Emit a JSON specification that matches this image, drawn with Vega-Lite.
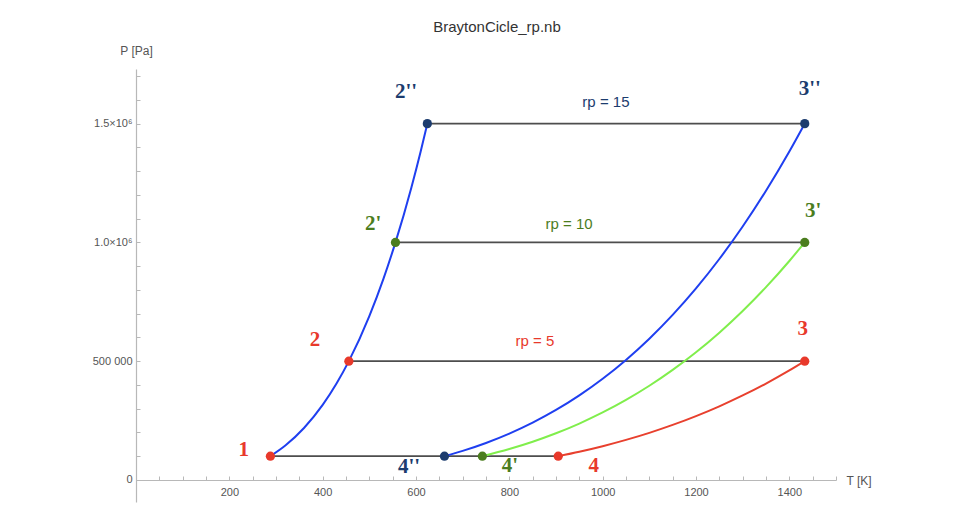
{
  "$schema": "https://vega.github.io/schema/vega-lite/v6.json",
  "width": 700,
  "height": 433,
  "autosize": {"type": "none"},
  "padding": {"left": 136, "top": 69, "right": 120, "bottom": 30},
  "background": "white",
  "config": {
    "view": {"stroke": null},
    "axis": {
      "grid": false,
      "domainColor": "#b8b8b8",
      "domainWidth": 1.2,
      "tickColor": "#b8b8b8",
      "labelColor": "#555555",
      "labelFont": "Liberation Sans",
      "labelFontSize": 11,
      "titleFont": "Liberation Sans",
      "titleFontWeight": "normal",
      "titleFontSize": 12,
      "titleColor": "#555555",
      "labelOverlap": false,
      "labelFlush": false
    }
  },
  "title": {
    "text": "BraytonCicle_rp.nb",
    "font": "Liberation Sans",
    "fontSize": 15,
    "fontWeight": "normal",
    "color": "#333333",
    "anchor": "middle",
    "baseline": "middle",
    "offset": 2,
    "dx": 11
  },
  "datasets": {
    "curves": [
      {"curve": "compression", "T": 288, "P": 100000},
      {"curve": "compression", "T": 320, "P": 144600},
      {"curve": "compression", "T": 360, "P": 218400},
      {"curve": "compression", "T": 400, "P": 315700},
      {"curve": "compression", "T": 430, "P": 406700},
      {"curve": "compression", "T": 456.1, "P": 500000},
      {"curve": "compression", "T": 500, "P": 689500},
      {"curve": "compression", "T": 530, "P": 845400},
      {"curve": "compression", "T": 556, "P": 1000000},
      {"curve": "compression", "T": 590, "P": 1230500},
      {"curve": "compression", "T": 610, "P": 1382900},
      {"curve": "compression", "T": 624.3, "P": 1500000},
      {"curve": "rp = 5", "T": 904.8, "P": 100000},
      {"curve": "rp = 5", "T": 950, "P": 118600},
      {"curve": "rp = 5", "T": 1000, "P": 141900},
      {"curve": "rp = 5", "T": 1050, "P": 168400},
      {"curve": "rp = 5", "T": 1100, "P": 198100},
      {"curve": "rp = 5", "T": 1150, "P": 231500},
      {"curve": "rp = 5", "T": 1200, "P": 268700},
      {"curve": "rp = 5", "T": 1250, "P": 309900},
      {"curve": "rp = 5", "T": 1300, "P": 355500},
      {"curve": "rp = 5", "T": 1350, "P": 405700},
      {"curve": "rp = 5", "T": 1400, "P": 460800},
      {"curve": "rp = 5", "T": 1433, "P": 500000},
      {"curve": "rp = 10", "T": 742.2, "P": 100000},
      {"curve": "rp = 10", "T": 800, "P": 130000},
      {"curve": "rp = 10", "T": 850, "P": 160700},
      {"curve": "rp = 10", "T": 900, "P": 196300},
      {"curve": "rp = 10", "T": 950, "P": 237300},
      {"curve": "rp = 10", "T": 1000, "P": 283900},
      {"curve": "rp = 10", "T": 1050, "P": 336800},
      {"curve": "rp = 10", "T": 1100, "P": 396300},
      {"curve": "rp = 10", "T": 1150, "P": 463100},
      {"curve": "rp = 10", "T": 1200, "P": 537400},
      {"curve": "rp = 10", "T": 1250, "P": 620000},
      {"curve": "rp = 10", "T": 1300, "P": 711100},
      {"curve": "rp = 10", "T": 1350, "P": 811600},
      {"curve": "rp = 10", "T": 1400, "P": 921700},
      {"curve": "rp = 10", "T": 1433, "P": 1000000},
      {"curve": "rp = 15", "T": 661, "P": 100000},
      {"curve": "rp = 15", "T": 700, "P": 122200},
      {"curve": "rp = 15", "T": 750, "P": 155600},
      {"curve": "rp = 15", "T": 800, "P": 195000},
      {"curve": "rp = 15", "T": 850, "P": 241100},
      {"curve": "rp = 15", "T": 900, "P": 294500},
      {"curve": "rp = 15", "T": 950, "P": 355900},
      {"curve": "rp = 15", "T": 1000, "P": 425900},
      {"curve": "rp = 15", "T": 1050, "P": 505200},
      {"curve": "rp = 15", "T": 1100, "P": 594500},
      {"curve": "rp = 15", "T": 1150, "P": 694600},
      {"curve": "rp = 15", "T": 1200, "P": 806100},
      {"curve": "rp = 15", "T": 1250, "P": 930000},
      {"curve": "rp = 15", "T": 1300, "P": 1066800},
      {"curve": "rp = 15", "T": 1350, "P": 1217600},
      {"curve": "rp = 15", "T": 1400, "P": 1382800},
      {"curve": "rp = 15", "T": 1433, "P": 1500000}
    ],
    "rules": [
      {"T": 288, "T2": 904.8, "P": 100000},
      {"T": 456.1, "T2": 1433, "P": 500000},
      {"T": 556, "T2": 1433, "P": 1000000},
      {"T": 624.3, "T2": 1433, "P": 1500000}
    ],
    "points": [
      {"cycle": "rp = 5", "T": 288, "P": 100000},
      {"cycle": "rp = 5", "T": 456.1, "P": 500000},
      {"cycle": "rp = 5", "T": 1433, "P": 500000},
      {"cycle": "rp = 5", "T": 904.8, "P": 100000},
      {"cycle": "rp = 10", "T": 556, "P": 1000000},
      {"cycle": "rp = 10", "T": 1433, "P": 1000000},
      {"cycle": "rp = 10", "T": 742.2, "P": 100000},
      {"cycle": "rp = 15", "T": 624.3, "P": 1500000},
      {"cycle": "rp = 15", "T": 1433, "P": 1500000},
      {"cycle": "rp = 15", "T": 661, "P": 100000}
    ],
    "pointLabels": [
      {"cycle": "rp = 5", "label": "1", "T": 231, "P": 128000},
      {"cycle": "rp = 5", "label": "2", "T": 383.6, "P": 589700},
      {"cycle": "rp = 5", "label": "3", "T": 1429, "P": 636000},
      {"cycle": "rp = 5", "label": "4", "T": 981, "P": 60000},
      {"cycle": "rp = 10", "label": "2'", "T": 508, "P": 1078000},
      {"cycle": "rp = 10", "label": "3'", "T": 1451, "P": 1133000},
      {"cycle": "rp = 10", "label": "4'", "T": 801, "P": 60000},
      {"cycle": "rp = 15", "label": "2''", "T": 578.6, "P": 1634000},
      {"cycle": "rp = 15", "label": "3''", "T": 1444, "P": 1647000},
      {"cycle": "rp = 15", "label": "4''", "T": 585, "P": 56000}
    ],
    "rpLabels": [
      {"cycle": "rp = 5", "T": 855, "P": 585500},
      {"cycle": "rp = 10", "T": 928, "P": 1078000},
      {"cycle": "rp = 15", "T": 1007, "P": 1592000}
    ]
  },
  "encoding": {
    "x": {
      "field": "T",
      "type": "quantitative",
      "scale": {"domain": [0, 1500], "nice": false, "zero": false},
      "axis": {
        "values": [0, 50, 100, 150, 200, 250, 300, 350, 400, 450, 500, 550, 600, 650, 700, 750, 800, 850, 900, 950, 1000, 1050, 1100, 1150, 1200, 1250, 1300, 1350, 1400, 1450, 1500],
        "format": "d",
        "labelExpr": "datum.value % 200 == 0 && datum.value > 0 ? datum.label : ''",
        "offset": -22,
        "tickSize": -4,
        "labelPadding": 10,
        "title": "T [K]",
        "titleX": 710,
        "titleY": 0,
        "titleAlign": "left",
        "titleBaseline": "middle",
        "titleAngle": 0
      }
    },
    "y": {
      "field": "P",
      "type": "quantitative",
      "scale": {"domain": [-93000, 1730000], "nice": false, "zero": false},
      "axis": {
        "values": [0, 100000, 200000, 300000, 400000, 500000, 600000, 700000, 800000, 900000, 1000000, 1100000, 1200000, 1300000, 1400000, 1500000, 1600000, 1700000],
        "labelExpr": "datum.value == 0 ? '0' : datum.value == 500000 ? '500 000' : datum.value == 1000000 ? '1.0×10⁶' : datum.value == 1500000 ? '1.5×10⁶' : ''",
        "tickSize": -4,
        "labelPadding": 8,
        "title": "P [Pa]",
        "titleAngle": 0,
        "titleX": 0,
        "titleY": -19,
        "titleAlign": "center",
        "titleBaseline": "middle"
      }
    }
  },
  "layer": [
    {
      "data": {"name": "rules"},
      "mark": {"type": "rule", "color": "#4d4d4d", "strokeWidth": 1.6},
      "encoding": {"x2": {"field": "T2"}}
    },
    {
      "data": {"name": "curves"},
      "mark": {"type": "line", "strokeWidth": 2, "interpolate": "monotone"},
      "encoding": {
        "color": {
          "field": "curve",
          "type": "nominal",
          "scale": {"domain": ["compression", "rp = 5", "rp = 10", "rp = 15"], "range": ["#1f3ff0", "#e8402e", "#80ee4c", "#1f3ff0"]},
          "legend": null
        }
      }
    },
    {
      "data": {"name": "points"},
      "mark": {"type": "circle", "size": 85, "opacity": 1},
      "encoding": {
        "color": {
          "field": "cycle",
          "type": "nominal",
          "scale": {"domain": ["rp = 5", "rp = 10", "rp = 15"], "range": ["#e8392b", "#4b7d1e", "#1c3c6e"]},
          "legend": null
        }
      }
    },
    {
      "data": {"name": "pointLabels"},
      "mark": {"type": "text", "font": "Liberation Serif", "fontWeight": "bold", "fontSize": 21, "align": "center", "baseline": "middle"},
      "encoding": {
        "text": {"field": "label"},
        "color": {
          "field": "cycle",
          "type": "nominal",
          "scale": {"domain": ["rp = 5", "rp = 10", "rp = 15"], "range": ["#e8392b", "#4b7d1e", "#1c3c6e"]},
          "legend": null
        }
      }
    },
    {
      "data": {"name": "rpLabels"},
      "mark": {"type": "text", "font": "Liberation Sans", "fontSize": 15, "align": "center", "baseline": "middle"},
      "encoding": {
        "text": {"field": "cycle"},
        "color": {
          "field": "cycle",
          "type": "nominal",
          "scale": {"domain": ["rp = 5", "rp = 10", "rp = 15"], "range": ["#e8392b", "#4b7d1e", "#1c3c6e"]},
          "legend": null
        }
      }
    }
  ],
  "resolve": {"scale": {"color": "independent"}}
}
